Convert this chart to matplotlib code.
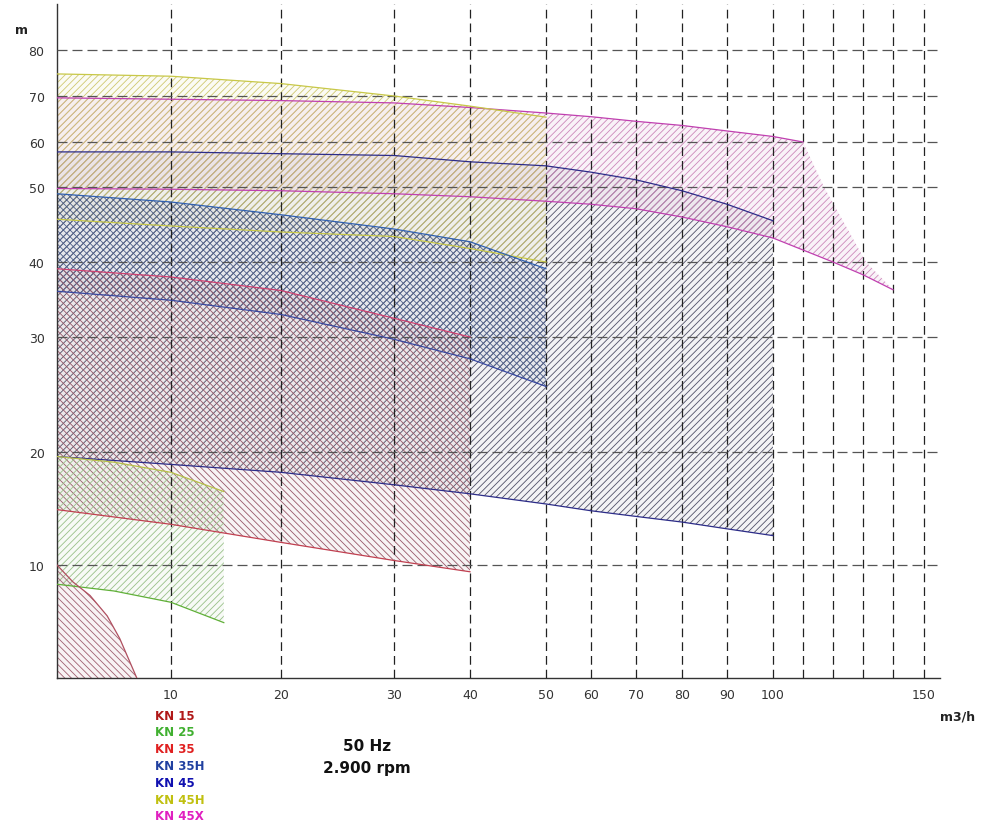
import numpy as np
import matplotlib
matplotlib.use('Agg')
from matplotlib import pyplot as plt
from matplotlib.colors import to_rgba

# pump ranges KN series, 50 Hz 2900 rpm  (flow m3/h, head m)
kn15_q = [0, 1.4, 2.9, 4.4, 5.5, 6.4, 7.0]
kn15_hmax = [10, 8.5, 7.3, 5.5, 3.5, 1.4, 0]
kn15_hmin = [0, 0, 0, 0, 0, 0, 0]

kn25_q = [0, 5, 10, 14.8]
kn25_hmax = [19.6, 19.1, 18.2, 16.5]
kn25_hmin = [8.3, 7.7, 6.7, 4.9]

kn35_q = [0, 10, 20, 30, 40]
kn35_hmax = [39.1, 38.0, 36.2, 32.5, 30.0]
kn35_hmin = [14.9, 13.6, 12.0, 10.4, 9.4]

kn35h_q = [0, 10, 20, 30, 40, 50]
kn35h_hmax = [49.1, 48.0, 46.3, 44.4, 42.7, 39.1]
kn35h_hmin = [36.1, 34.9, 33.0, 29.8, 28.1, 25.7]

kn45_q = [0, 10, 20, 30, 40, 50, 60, 70, 80, 90, 100]
kn45_hmax = [57.8, 57.8, 57.4, 57.0, 55.6, 54.7, 53.3, 51.6, 49.5, 47.7, 45.5]
kn45_hmin = [19.6, 18.9, 18.2, 17.1, 16.3, 15.4, 14.8, 14.3, 13.8, 13.2, 12.6]

kn45h_q = [0, 10, 20, 30, 40, 50]
kn45h_hmax = [74.8, 74.3, 72.7, 70.0, 67.8, 65.4]
kn45h_hmin = [45.7, 44.8, 44.0, 43.4, 41.8, 40.0]

kn45x_q_top = [0, 10, 20, 30, 40, 50, 60, 70, 80, 90, 100, 110]
kn45x_hmax = [69.6, 69.3, 69.0, 68.5, 67.5, 66.3, 65.5, 64.5, 63.6, 62.4, 61.2, 60.0]
kn45x_q_edge = [110, 117, 131, 140]
kn45x_h_edge = [60.0, 50.0, 40.0, 36.3]
kn45x_q_low = [0, 10, 20, 30, 40, 50, 60, 70, 80, 90, 100, 110, 120, 130, 140]
kn45x_hmin = [49.8, 49.7, 49.5, 49.1, 48.7, 48.1, 47.7, 47.1, 46.0, 44.7, 43.2, 41.6, 40.0, 38.3, 36.3]

models = ['KN 15', 'KN 25', 'KN 35', 'KN 35H', 'KN 45', 'KN 45H', 'KN 45X']
label_colors = ['#b01818', '#40b030', '#e02020', '#2040a0', '#1010b0', '#c0c010', '#e020c0']

x_ticks = [10, 20, 30, 40, 50, 60, 70, 80, 90, 100, 110, 120, 130, 140, 150]
x_labels = ['10', '20', '30', '40', '50', '60', '70', '80', '90', '100', '', '', '', '', '150']
y_ticks = [10, 20, 30, 40, 50, 60, 70, 80]

# the sheet uses a piecewise linear axis (wide at low values, tight at high ones)
XV = [0, 10, 20, 30, 40, 50, 60, 70, 80, 90, 100, 110, 120, 130, 140, 150, 155]
XP = [0, 114, 224, 337, 413, 489, 534, 579, 625, 670, 716, 746, 776, 806, 836, 867, 883]
YV = [0, 10, 20, 30, 40, 50, 60, 70, 80, 90]
YP = [0, 113, 226, 341, 416, 491, 536, 582, 628, 674]


def fx(v):
    return np.interp(v, XV, XP)


def fx_inv(p):
    return np.interp(p, XP, XV)


def fy(v):
    return np.interp(v, YV, YP)


def fy_inv(p):
    return np.interp(p, YP, YV)


def area(ax, q_top, h_top, q_low, h_low, hatch, hcol, lcol, tint=0.07,
         q_edge=(), h_edge=(), top_only=False):
    xs = list(q_top) + list(q_edge) + list(q_low)[::-1]
    ys = list(h_top) + list(h_edge) + list(h_low)[::-1]
    ax.fill(xs, ys, facecolor=to_rgba(hcol, tint), edgecolor=hcol, hatch=hatch,
            linewidth=0, zorder=2)
    ax.plot(q_top, h_top, color=lcol[0], lw=0.9, zorder=3)
    if not top_only:
        ax.plot(q_low, h_low, color=lcol[1], lw=0.9, zorder=3)


plt.rcParams['hatch.linewidth'] = 0.6
W, H = 983, 829
fig = plt.figure(figsize=(W / 100, H / 100), dpi=100)
ax = fig.add_axes([57 / W, 150 / H, 883 / W, 674 / H])
ax.set_xscale('function', functions=(fx, fx_inv))
ax.set_yscale('function', functions=(fy, fy_inv))
ax.set_xlim(0, 155)
ax.set_ylim(0, 90)

area(ax, kn45_q, kn45_hmax, kn45_q, kn45_hmin, '/////', '#505068', ('#2c2c88', '#2c2c88'))
area(ax, kn45x_q_top, kn45x_hmax, kn45x_q_low, kn45x_hmin, '/////', '#cc88bb',
     ('#c040b0', '#c040b0'), tint=0.10, q_edge=kn45x_q_edge[1:], h_edge=kn45x_h_edge[1:])
area(ax, kn45h_q, kn45h_hmax, kn45h_q, kn45h_hmin, '/////', '#cfc870', ('#c8c848', '#c8c848'))
area(ax, kn35h_q, kn35h_hmax, kn35h_q, kn35h_hmin, 'xxxxx', '#50608a', ('#3060b0', '#3848a0'))
area(ax, kn35_q, kn35_hmax, kn35_q, kn35_hmin, '\\\\\\\\\\', '#985868', ('#d04070', '#c04050'))
area(ax, kn25_q, kn25_hmax, kn25_q, kn25_hmin, '/////', '#98c088', ('#b8c048', '#60b038'))
area(ax, kn15_q, kn15_hmax, kn15_q, kn15_hmin, '\\\\\\\\\\', '#a06070', ('#b05060', '#b05060'),
     top_only=True)

ax.set_xticks(x_ticks, x_labels)
ax.set_yticks(y_ticks, [str(v) for v in y_ticks])
ax.tick_params(length=0, labelsize=9, labelcolor='#333333')
ax.tick_params(axis='x', pad=7)
ax.tick_params(axis='y', pad=9)
ax.grid(True, axis='x', color='#222222', lw=0.9, dashes=(7, 4))
ax.grid(True, axis='y', color='#555555', lw=0.9, dashes=(8, 4))
ax.set_axisbelow(False)
for s in ['top', 'right']:
    ax.spines[s].set_visible(False)
for s in ['left', 'bottom']:
    ax.spines[s].set_color('#333333')
    ax.spines[s].set_linewidth(1.0)

fig.text(15 / W, 1 - 30 / H, 'm', fontsize=9, fontweight='bold', color='#222222', va='center')
fig.text(958 / W, 1 - 717 / H, 'm3/h', fontsize=9, fontweight='bold', color='#222222',
         ha='center', va='center')
row_y = [716, 733, 750, 767, 784, 801, 817]
for name, col, yy in zip(models, label_colors, row_y):
    fig.text(155 / W, 1 - yy / H, name, fontsize=8.5, fontweight='bold', color=col, va='center')
fig.text(367 / W, 1 - 747 / H, '50 Hz', fontsize=11, fontweight='bold', color='#111111',
         ha='center', va='center')
fig.text(367 / W, 1 - 769 / H, '2.900 rpm', fontsize=11, fontweight='bold', color='#111111',
         ha='center', va='center')

fig.savefig('out.png', dpi=100)
